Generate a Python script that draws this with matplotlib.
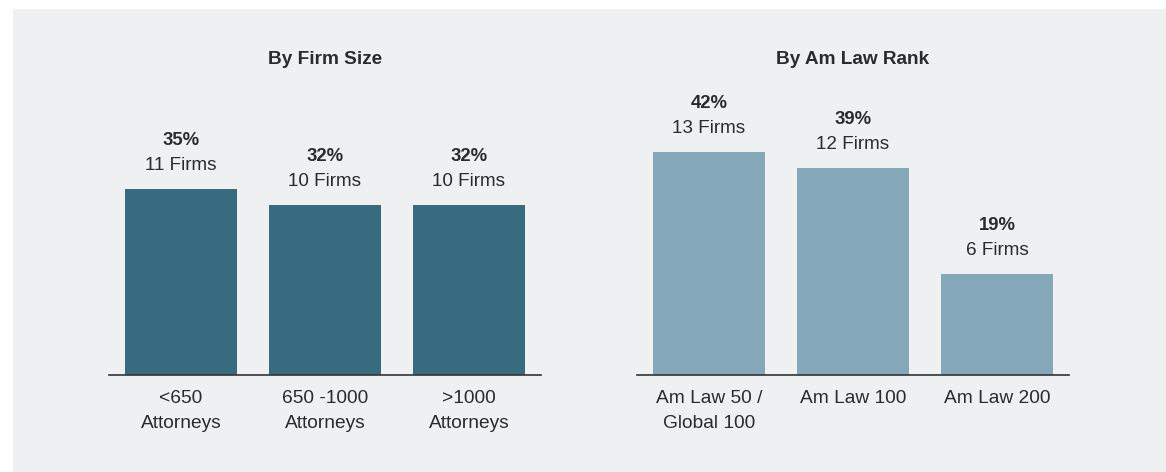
import matplotlib.pyplot as plt
from matplotlib.patches import Rectangle

plt.rcParams['font.family'] = ['Liberation Sans', 'DejaVu Sans']

size_labels = ['<650\nAttorneys', '650 -1000\nAttorneys', '>1000\nAttorneys']
size_pct = [35, 32, 32]
size_firms = [11, 10, 10]

rank_labels = ['Am Law 50 /\nGlobal 100', 'Am Law 100', 'Am Law 200']
rank_pct = [42, 39, 19]
rank_firms = [13, 12, 6]

W, H = 1166, 472
bg = '#eff0f2'
txt = '#2b2b2b'

fig = plt.figure(figsize=(W / 100, H / 100), dpi=100)
fig.patch.set_facecolor('white')
fig.patches.append(Rectangle((13 / W, 0), 1 - 13 / W, (H - 9) / H,
                             transform=fig.transFigure, facecolor=bg,
                             edgecolor='none', zorder=-5))

px_per = 5.32
ymax = 50
ax_h = ymax * px_per / H
bottom = (H - 375) / H


def panel(left_px, title, labels, pct, firms, color):
    ax = fig.add_axes([left_px / W, bottom, 432 / W, ax_h])
    ax.set_facecolor('none')
    x = range(len(pct))
    ax.bar(x, pct, width=112 / 144, color=color, zorder=2)
    ax.set_xlim(-0.5, 2.5)
    ax.set_ylim(0, ymax)
    for s in ['top', 'right', 'left']:
        ax.spines[s].set_visible(False)
    ax.spines['bottom'].set_color('#333333')
    ax.spines['bottom'].set_linewidth(1.2)
    ax.set_yticks([])
    ax.set_xticks(list(x))
    ax.set_xticklabels(labels, fontsize=13.8, color=txt, linespacing=1.62)
    ax.tick_params(axis='x', length=0, pad=11)
    for i, (p, f) in enumerate(zip(pct, firms)):
        ax.annotate(f'{f} Firms', (i, p), xytext=(0, 23 * 0.72),
                    textcoords='offset points', ha='center', va='center',
                    fontsize=13.6, color=txt)
        ax.annotate(f'{p}%', (i, p), xytext=(0, 48 * 0.72),
                    textcoords='offset points', ha='center', va='center',
                    fontsize=13.3, fontweight='bold', color=txt)
    fig.text((left_px + 216) / W, (H - 59) / H, title, ha='center',
             va='center', fontsize=13.7, fontweight='bold', color=txt)
    return ax


panel(109, 'By Firm Size', size_labels, size_pct, size_firms, '#386b7f')
panel(637, 'By Am Law Rank', rank_labels, rank_pct, rank_firms, '#84a8ba')

fig.savefig('out.png', dpi=100, facecolor=fig.get_facecolor())
